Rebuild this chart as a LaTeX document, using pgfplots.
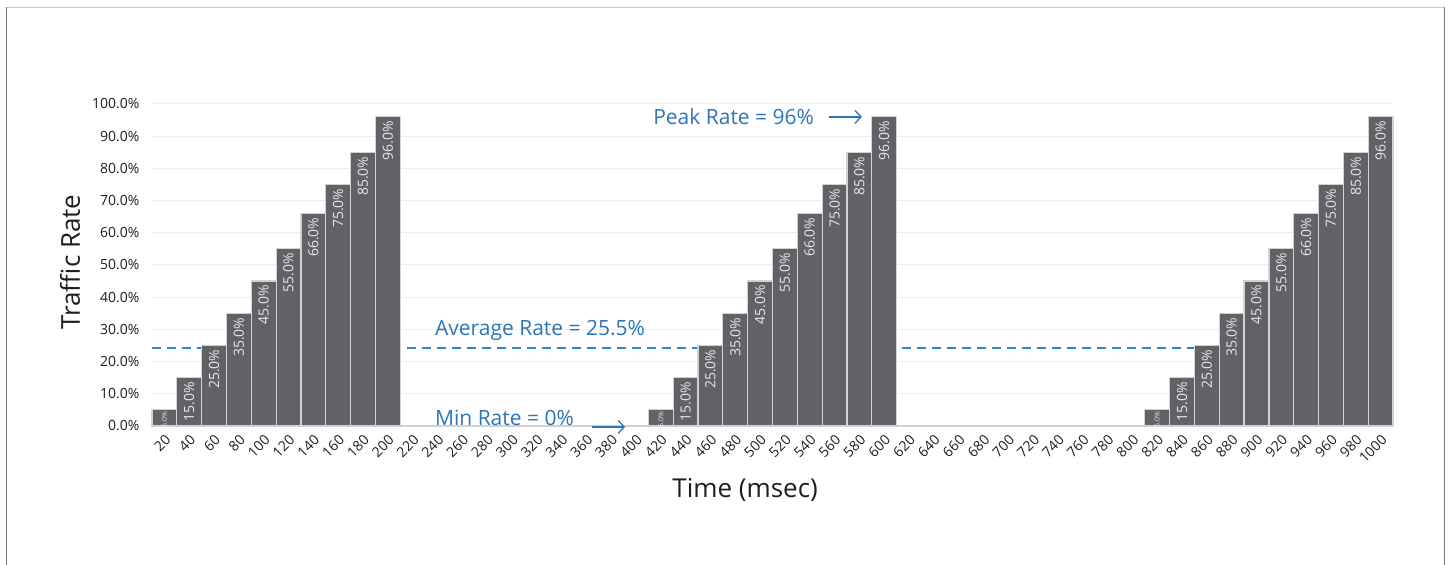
\documentclass[border=0pt]{standalone}
\usepackage{fontspec}
\setmainfont{Open Sans}
\usepackage{pgfplots}
\usepackage{pgfplotstable}
\pgfplotsset{compat=1.18}
\usetikzlibrary{arrows.meta}

\definecolor{barfill}{RGB}{96,98,103}
\definecolor{barline}{RGB}{210,210,210}
\definecolor{gridc}{RGB}{236,236,236}
\definecolor{annot}{RGB}{46,117,182}
\definecolor{avgline}{RGB}{50,130,212}
\definecolor{lbl}{RGB}{232,232,232}
\definecolor{txt}{RGB}{30,30,30}
\definecolor{framec}{RGB}{120,120,120}
\definecolor{frametop}{RGB}{200,200,200}

% traffic rate (%) per 20 ms slot
\pgfplotstableread{
slot ms rate
1 20 5
2 40 15
3 60 25
4 80 35
5 100 45
6 120 55
7 140 66
8 160 75
9 180 85
10 200 96
11 220 0
12 240 0
13 260 0
14 280 0
15 300 0
16 320 0
17 340 0
18 360 0
19 380 0
20 400 0
21 420 5
22 440 15
23 460 25
24 480 35
25 500 45
26 520 55
27 540 66
28 560 75
29 580 85
30 600 96
31 620 0
32 640 0
33 660 0
34 680 0
35 700 0
36 720 0
37 740 0
38 760 0
39 780 0
40 800 0
41 820 5
42 840 15
43 860 25
44 880 35
45 900 45
46 920 55
47 940 66
48 960 75
49 980 85
50 1000 96
}\rates

\begin{document}
\begin{tikzpicture}
\useasboundingbox (0,0) rectangle (1449bp,565bp);
\draw[frametop, line width=1.2bp] (6bp,557.5bp) -- (1444bp,557.5bp);
\draw[framec, line width=1bp] (6bp,-2bp) -- (6bp,558bp);
\draw[framec, line width=1bp] (1444bp,-2bp) -- (1444bp,558bp);
\begin{axis}[
    at={(152bp,139bp)}, anchor=south west,
    width=1241bp, height=322bp, scale only axis,
    xmin=0.5, xmax=50.5,
    ymin=0, ymax=100,
    clip=false,
    axis line style={draw=none},
    major tick length=0pt,
    ymajorgrids, grid style={gridc, line width=1bp},
    ytick={0,10,...,100},
    yticklabel={\pgfmathprintnumber[fixed,fixed zerofill,precision=1]{\tick}\%},
    /pgf/number format/assume math mode=true,
    yticklabel style={font=\fontsize{14bp}{16bp}\selectfont, text=txt, xshift=-9bp},
    xtick={1,...,50},
    xticklabels from table={\rates}{ms},
    xticklabel style={font=\fontsize{14bp}{16bp}\selectfont, text=txt, xshift=6bp, yshift=-9bp, rotate=45, anchor=east},
    xlabel={Time (msec)},
    xlabel style={font=\fontsize{26bp}{30bp}\selectfont, text=txt, at={(axis description cs:0.478,-0.199)}, anchor=center},
    ylabel={Traffic Rate},
    ylabel style={font=\fontsize{26bp}{30bp}\selectfont, text=txt, at={(axis description cs:-0.066,0.509)}, anchor=center},
    lab/.style={draw=none, mark=none, nodes near coords={\pgfmathprintnumber[fixed,fixed zerofill,precision=1]{\pgfplotspointmeta}\%},
        every node near coord/.append style={rotate=90, anchor=east, text=lbl, inner sep=4bp}},
]
\addplot[avgline, line width=1.2bp, dash pattern=on 9bp off 6bp] coordinates {(0.5,24.2) (50.5,24.2)};

\addplot[ybar, bar width=1, fill=barfill, draw=barline, line width=1.2bp]
    table[x=slot, y=rate] {\rates};

% data labels
\addplot[lab, restrict y to domain=10:100,
    every node near coord/.append style={font=\fontsize{14bp}{16bp}\selectfont}]
    table[x=slot, y=rate] {\rates};
\addplot[lab, restrict y to domain=1:9.9,
    every node near coord/.append style={font=\fontsize{7bp}{8bp}\selectfont, inner sep=1.5bp}]
    table[x=slot, y=rate] {\rates};

\node[anchor=west, inner sep=0pt, text=annot, font=\fontsize{21bp}{24bp}\selectfont] at (axis cs:11.9,29.8) {Average Rate = 25.5\%};
\node[anchor=west, inner sep=0pt, text=annot, font=\fontsize{21bp}{24bp}\selectfont] at (axis cs:11.9,2.5) {Min Rate = 0\%};
\node[anchor=west, inner sep=0pt, text=annot, font=\fontsize{21bp}{24bp}\selectfont] at (axis cs:20.69,96) {Peak Rate = 96\%};
\draw[annot, line width=1.3bp, -{Straight Barb[length=6bp,width=13bp]}] (axis cs:18.23,-0.3) -- (axis cs:19.56,-0.3);
\draw[annot, line width=1.3bp, -{Straight Barb[length=6bp,width=13bp]}] (axis cs:27.78,96) -- (axis cs:29.1,96);
\end{axis}
\end{tikzpicture}
\end{document}
